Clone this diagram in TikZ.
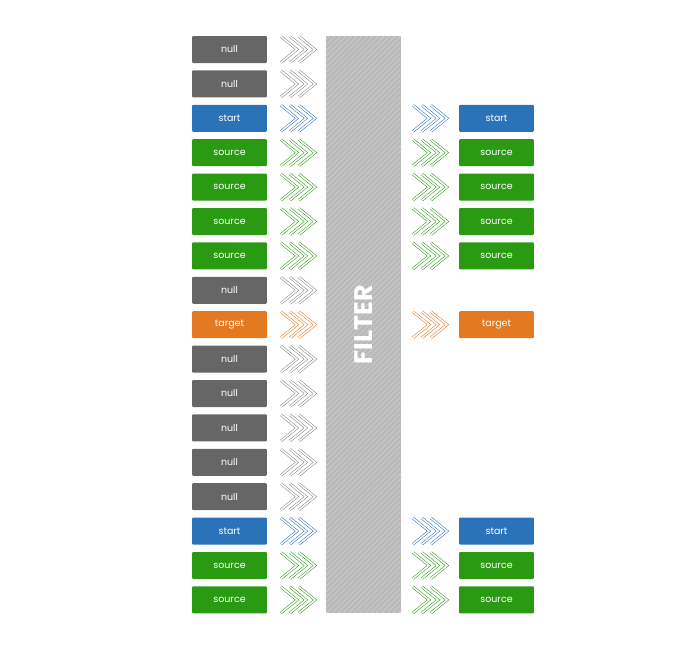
\documentclass[tikz,border=0pt]{standalone}
\usepackage{fontspec}
\setmainfont{Poppins}
\usetikzlibrary{patterns.meta}
\definecolor{nullgray}{HTML}{666666}
\definecolor{startblue}{HTML}{2B73B9}
\definecolor{srcgreen}{HTML}{2A9A13}
\definecolor{tgtorange}{HTML}{E37A22}
\definecolor{filtergray}{HTML}{B9B9B9}
\definecolor{stripe}{HTML}{D0D0D0}
% three double-lined chevrons: x, y, colour
\newcommand{\chevs}[3]{%
  \foreach \k in {0,1,2}
    \draw[chev,draw=#3] (#1+\k*9,#2-13) -- (#1+\k*9+16,#2) -- (#1+\k*9,#2+13);
}
\begin{document}
\begin{tikzpicture}[x=0.02cm,y=-0.02cm]
			\tikzstyle{box}=[rectangle,rounded corners=0.6pt,minimum width=1.5cm,minimum height=0.54cm,inner sep=0pt,text=white,font=\fontsize{5.4}{6}\selectfont]
			\tikzstyle{nullb}=[box,fill=nullgray]
			\tikzstyle{startb}=[box,fill=startblue]
			\tikzstyle{srcb}=[box,fill=srcgreen]
			\tikzstyle{tgtb}=[box,fill=tgtorange]
			\tikzstyle{chev}=[line width=0.3pt,double=white,double distance=0.9pt]
			\useasboundingbox (0,0) rectangle (700,650);
			\begin{scope}
			% input column
			\node[nullb]  (l1)  at (229.5,49.5)  {null};
			\node[nullb]  (l2)  at (229.5,83.9)  {null};
			\node[startb] (l3)  at (229.5,118.3) {start};
			\node[srcb]   (l4)  at (229.5,152.7) {source};
			\node[srcb]   (l5)  at (229.5,187.1) {source};
			\node[srcb]   (l6)  at (229.5,221.5) {source};
			\node[srcb]   (l7)  at (229.5,255.9) {source};
			\node[nullb]  (l8)  at (229.5,290.3) {null};
			\node[tgtb]   (l9)  at (229.5,324.7) {target};
			\node[nullb]  (l10) at (229.5,359.1) {null};
			\node[nullb]  (l11) at (229.5,393.5) {null};
			\node[nullb]  (l12) at (229.5,427.9) {null};
			\node[nullb]  (l13) at (229.5,462.3) {null};
			\node[nullb]  (l14) at (229.5,496.7) {null};
			\node[startb] (l15) at (229.5,531.1) {start};
			\node[srcb]   (l16) at (229.5,565.5) {source};
			\node[srcb]   (l17) at (229.5,599.9) {source};
			\end{scope}

			% filter bar
			\node[fill=filtergray,rounded corners=0.6pt,minimum width=1.5cm,minimum height=11.54cm,inner sep=0pt] (filter) at (363.5,324.5) {};
			\fill[pattern={Lines[angle=45,distance=2.2pt,line width=0.35pt]},pattern color=stripe,rounded corners=0.6pt] (filter.south west) rectangle (filter.north east);
			\node[rotate=90,text=white,font=\fontsize{14.5}{15}\bfseries] (ftext) at (filter.center) {FILTER};

			\begin{scope}
			% output column
			\node[startb] (r3)  at (496.5,118.3) {start};
			\node[srcb]   (r4)  at (496.5,152.7) {source};
			\node[srcb]   (r5)  at (496.5,187.1) {source};
			\node[srcb]   (r6)  at (496.5,221.5) {source};
			\node[srcb]   (r7)  at (496.5,255.9) {source};
			\node[tgtb]   (r9)  at (496.5,324.7) {target};
			\node[startb] (r15) at (496.5,531.1) {start};
			\node[srcb]   (r16) at (496.5,565.5) {source};
			\node[srcb]   (r17) at (496.5,599.9) {source};
			\end{scope}

			% chevrons in
			\chevs{281}{49.5}{nullgray!80}
			\chevs{281}{83.9}{nullgray!80}
			\chevs{281}{118.3}{startblue}
			\chevs{281}{152.7}{srcgreen}
			\chevs{281}{187.1}{srcgreen}
			\chevs{281}{221.5}{srcgreen}
			\chevs{281}{255.9}{srcgreen}
			\chevs{281}{290.3}{nullgray!80}
			\chevs{281}{324.7}{tgtorange}
			\chevs{281}{359.1}{nullgray!80}
			\chevs{281}{393.5}{nullgray!80}
			\chevs{281}{427.9}{nullgray!80}
			\chevs{281}{462.3}{nullgray!80}
			\chevs{281}{496.7}{nullgray!80}
			\chevs{281}{531.1}{startblue}
			\chevs{281}{565.5}{srcgreen}
			\chevs{281}{599.9}{srcgreen}
			% chevrons out
			\chevs{413}{118.3}{startblue}
			\chevs{413}{152.7}{srcgreen}
			\chevs{413}{187.1}{srcgreen}
			\chevs{413}{221.5}{srcgreen}
			\chevs{413}{255.9}{srcgreen}
			\chevs{413}{324.7}{tgtorange}
			\chevs{413}{531.1}{startblue}
			\chevs{413}{565.5}{srcgreen}
			\chevs{413}{599.9}{srcgreen}
		\end{tikzpicture}
\end{document}
